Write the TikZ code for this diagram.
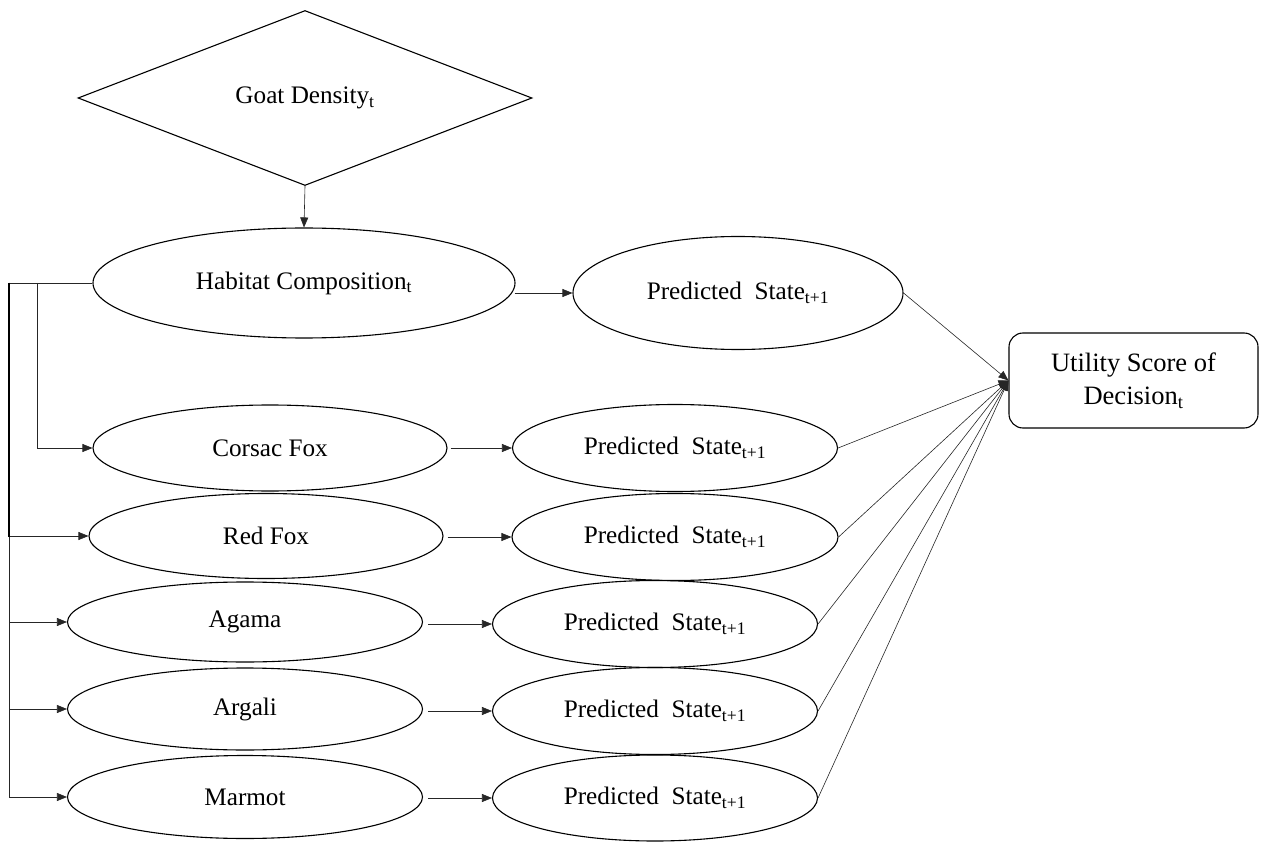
\documentclass[tikz,border=0pt]{standalone}
\usepackage{fontspec}
\setmainfont{Liberation Serif}
\usetikzlibrary{shapes.geometric,arrows.meta}
\begin{document}
\begin{tikzpicture}[x=1pt,y=-1pt,
  every node/.style={font=\fontsize{25.2}{33}\selectfont, inner sep=0pt},
  ell/.style={ellipse, draw, line width=1.1pt},
  conn/.style={-{Triangle[length=10pt,width=8pt]}, line width=0.6pt, draw=black!85},
  thin/.style={line width=0.6pt, draw=black!85}]
\useasboundingbox (0,0) rectangle (1264,842);
\node[diamond, draw, line width=1.1pt, minimum width=454pt, minimum height=175pt, aspect=2.6] (goat) at (305,98) {Goat Density\textsubscript{t}};
\node[ell, minimum width=422pt, minimum height=110pt] (hab) at (304,283) {Habitat Composition\textsubscript{t}};
\node[ell, minimum width=330pt, minimum height=113pt] (p0) at (738,293) {Predicted\ \ State\textsubscript{t+1}};
\node[draw, line width=1.1pt, rounded corners=14pt, minimum width=249pt, minimum height=95pt, align=center, font=\fontsize{26.5}{33}\selectfont] (util) at (1133.5,380.5) {Utility Score of\\Decision\textsubscript{t}};
\node[ell, minimum width=354pt, minimum height=86pt] (cor) at (270,448) {Corsac Fox};
\node[ell, minimum width=325pt, minimum height=87pt] (p1) at (675,448) {Predicted\ \ State\textsubscript{t+1}};
\node[ell, minimum width=354pt, minimum height=85pt] (red) at (266,536) {Red Fox};
\node[ell, minimum width=326pt, minimum height=87pt] (p2) at (675,537) {Predicted\ \ State\textsubscript{t+1}};
\node[ell, minimum width=355pt, minimum height=80pt] (aga) at (245,622) {Agama};
\node[ell, minimum width=325pt, minimum height=87pt] (p3) at (655,624) {Predicted\ \ State\textsubscript{t+1}};
\node[ell, minimum width=355pt, minimum height=82pt] (arg) at (245,709) {Argali};
\node[ell, minimum width=325pt, minimum height=87pt] (p4) at (655,711) {Predicted\ \ State\textsubscript{t+1}};
\node[ell, minimum width=355pt, minimum height=83pt] (mar) at (245,797) {Marmot};
\node[ell, minimum width=325pt, minimum height=86pt] (p5) at (655,798) {Predicted\ \ State\textsubscript{t+1}};
% top
\draw[conn] (goat.south) -- (hab.north);
\draw[conn] ([xshift=-1pt]hab.east |- p0.west) -- (p0.west);
\draw[conn] ([xshift=3pt]cor.east |- p1.west) -- (p1.west);
\draw[conn] ([xshift=4pt]red.east |- p2.west) -- (p2.west);
\draw[conn] ([xshift=5pt]aga.east |- p3.west) -- (p3.west);
\draw[conn] ([xshift=5pt]arg.east |- p4.west) -- (p4.west);
\draw[conn] ([xshift=5pt]mar.east |- p5.west) -- (p5.west);
% left spine
\coordinate (spine) at (9,283);
\coordinate (spine2) at (37,283);
\draw[conn] (hab.west) -- (spine) |- (red.west);
\draw[conn] (spine) |- (aga.west);
\draw[conn] (spine) |- (arg.west);
\draw[conn] (spine) |- (mar.west);
\draw[line width=1.2pt] (spine) -- (9,537);
\draw[conn] (spine2) |- (cor.west);
% converge
\foreach \p in {p0,p1,p2,p3,p4,p5}{
  \draw[conn] (\p.east) -- (util.west);
}
\end{tikzpicture}
\end{document}
